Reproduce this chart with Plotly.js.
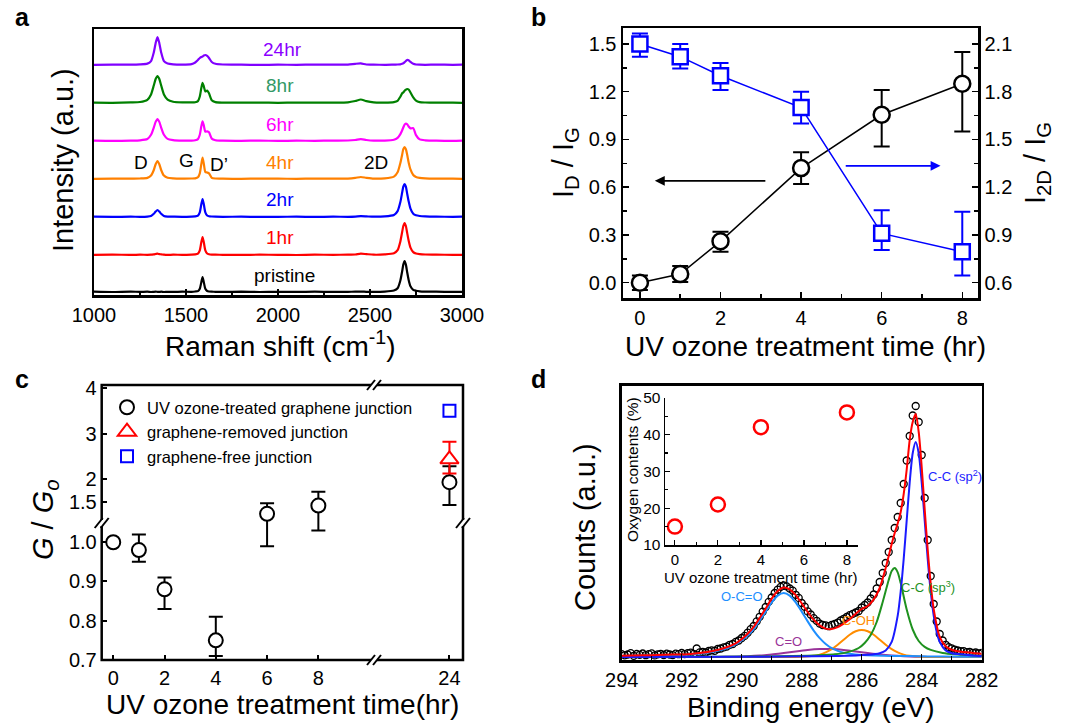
<!DOCTYPE html>
<html><head><meta charset="utf-8">
<script src="https://cdn.plot.ly/plotly-3.0.1.min.js"></script>
<style>html,body{margin:0;padding:0;background:#fff}#chart{width:1077px;height:723px}</style>
</head><body><div id="chart"></div>
<script>
// ---------------- Panel a : Raman spectra ----------------
const ramanShift = [1000,1100,1200,1250,1290,1310,1325,1335,1345,1355,1365,1380,1400,1430,1480,1530,1550,1565,1575,1583,1590,1597,1605,1615,1625,1640,1660,1700,1800,1900,2000,2100,2200,2300,2380,2420,2450,2480,2520,2580,2630,2650,2665,2675,2681,2688,2695,2702,2710,2720,2735,2750,2770,2800,2860,2950,3000];
const spectraNames = ['pristine','1hr','2hr','4hr','6hr','8hr','24hr'];
const spectraOffsets = [3, 40, 78, 116, 154, 192, 230];
const ramanPristine = [0.3,0.0,0.4,0.1, 0.3,0.0,0.2,0.3,0.2,0.1,0.3,0.0,0.2,0.1, 0.3,0.2,0.5,0.9,3.2,9.6,15.0,9.6,3.2,1.0,0.5,0.3,0.2,0.1, 0.3,0.0,0.2,0.1,0.3,0.1, 0.2,0.3,0.4,0.2,0.1, 0.4,1.5,3.7,11.5,21.0,27.4,31.0,27.4,19.8,12.1,5.7,2.2,1.3,0.7,0.4,0.3,0.1,0.2];
const raman1hr = [0.2,0.4,0.1,0.3, 0.2,0.3,0.7,1.0,1.3,0.9,0.7,0.3,0.1,0.3, 0.2,0.4,0.6,1.4,4.7,12.4,18.0,12.4,4.7,1.5,0.8,0.4,0.3,0.2, 0.1,0.3,0.2,0.0,0.3,0.2, 0.3,0.5,1.3,0.9,0.3, 0.6,1.7,4.8,13.6,23.2,29.0,32.0,29.0,22.1,14.4,7.4,2.9,1.5,0.9,0.5,0.3,0.2,0.1];
const raman2hr = [0.3,0.1,0.3,0.2, 0.4,1.0,3.2,5.4,7.0,5.4,3.2,1.0,0.4,0.3, 0.2,0.4,0.6,1.4,4.7,12.4,18.0,12.4,4.7,1.5,0.8,0.5,0.3,0.2, 0.3,0.1,0.2,0.3,0.1,0.3, 0.2,0.4,0.8,0.6,0.3, 0.6,2.0,5.9,14.9,24.7,30.3,33.0,30.3,23.4,15.8,8.4,3.3,1.7,1.0,0.6,0.3,0.2,0.3];
const raman4hr = [0.2,0.4,0.3,0.5, 1.1,3.4,9.0,14.8,18.0,14.8,9.0,3.4,1.2,0.6, 0.4,0.5,0.7,1.7,5.6,14.6,21.3,15.0,7.1,6.5,5.7,1.2,0.5,0.3, 0.2,0.4,0.3,0.2,0.4,0.3, 0.4,1.1,2.0,1.2,0.4, 0.7,2.4,6.7,16.0,24.6,29.8,32.0,29.8,24.2,16.6,9.6,4.0,2.1,1.2,0.7,0.4,0.3,0.2];
const raman6hr = [0.3,0.1,0.4,0.7, 2.0,6.2,13.4,19.1,22.0,19.1,13.4,6.2,2.1,0.9, 0.4,0.4,0.8,1.9,6.3,14.4,19.7,15.4,9.3,9.6,8.7,2.4,0.8,0.3, 0.2,0.4,0.1,0.3,0.2,0.4, 0.5,1.0,1.8,1.0,0.4, 0.4,1.2,3.1,6.9,10.8,13.5,16.4,17.5,16.8,14.5,12.6,12.9,5.9,1.6,0.7,0.3,0.2,0.4];
const raman8hr = [0.3,0.2,0.6,1.0, 3.2,8.6,17.6,24.0,27.0,24.0,17.6,8.6,3.4,1.3, 0.6,0.6,0.8,1.9,6.5,14.7,20.2,16.5,11.6,12.4,9.7,2.7,0.9,0.4, 0.3,0.5,0.2,0.4,0.3,0.4, 0.7,2.0,3.5,1.9,0.6, 0.4,0.9,2.2,6.3,9.8,10.6,12.2,13.3,14.0,13.5,10.5,5.6,2.3,0.9,0.5,0.3,0.4,0.2];
const raman24hr = [0.2,0.4,0.3,0.6, 1.4,3.9,12.6,21.8,28.0,21.8,12.6,3.9,1.5,0.7, 0.4,0.9,2.5,5.0,7.0,8.0,8.5,9.5,10.0,9.2,7.0,3.0,1.2,0.5, 0.3,0.1,0.3,0.2,0.4,0.3, 0.4,1.2,1.6,0.5,0.3, 0.2,0.4,0.5,0.7,1.2,1.7,2.8,4.0,5.0,4.8,3.1,1.2,0.5,0.3,0.2,0.4,0.2,0.3];
const ramanTicks = [1000,1500,2000,2500,3000];

// ---------------- Panel b ----------------
const timeB = [0,1,2,4,6,8];
const idIg = [0.0, 0.055, 0.26, 0.72, 1.055, 1.25];
const idIgErrUp = [0.045, 0.05, 0.06, 0.10, 0.155, 0.20];
const idIgErrDn = [0.045, 0.05, 0.065, 0.10, 0.20, 0.30];
const i2dIg = [2.10, 2.02, 1.90, 1.70, 0.91, 0.795];
const i2dIgErrUp = [0.065, 0.08, 0.08, 0.10, 0.145, 0.25];
const i2dIgErrDn = [0.08, 0.075, 0.09, 0.10, 0.105, 0.15];

// ---------------- Panel c ----------------
const timeC = [0,1,2,4,6,8,24];
const gRatio = [1.00, 0.98, 0.88, 0.75, 1.25, 1.43, 1.94];
const gRatioErrUp = [0, 0.04, 0.03, 0.06, 0.23, 0.30, 0.35];
const gRatioErrDn = [0, 0.03, 0.05, 0.04, 0.26, 0.40, 0.50];
const timeRemoved = [24];
const gRemoved = [2.44];
const gRemovedErrUp = [0.38];
const gRemovedErrDn = [0.31];
const timeFree = [24];
const gFree = [3.5];
const axisBreak = 1.05; // value at which the broken y axis splits

// ---------------- Panel d : XPS C1s ----------------
const xpsEnergy = [294.0,293.9,293.8,293.7,293.6,293.5,293.4,293.3,293.2,293.1,293.0,292.9,292.8,292.7,292.6,292.5,292.4,292.3,292.2,292.1,292.0,291.9,291.8,291.7,291.6,291.5,291.4,291.3,291.2,291.1,291.0,290.9,290.8,290.7,290.6,290.5,290.4,290.3,290.2,290.1,290.0,289.9,289.8,289.7,289.6,289.5,289.4,289.3,289.2,289.1,289.0,288.9,288.8,288.7,288.6,288.5,288.4,288.3,288.2,288.1,288.0,287.9,287.8,287.7,287.6,287.5,287.4,287.3,287.2,287.1,287.0,286.9,286.8,286.7,286.6,286.5,286.4,286.3,286.2,286.1,286.0,285.9,285.8,285.7,285.6,285.5,285.4,285.3,285.2,285.1,285.0,284.9,284.8,284.7,284.6,284.5,284.4,284.3,284.2,284.1,284.0,283.9,283.8,283.7,283.6,283.5,283.4,283.3,283.2,283.1,283.0,282.9,282.8,282.7,282.6,282.5,282.4,282.3,282.2,282.1,282.0];
const xpsCounts = [5.9,4.7,5.5,6.8,4.2,6.0,5.1,6.5,4.8,5.9,6.6,4.6,5.7,6.2,5.0,6.4,5.5,4.9,6.3,5.8,7.0,5.9,6.8,7.3,6.2,11.5,7.6,8.1,7.5,9.0,9.6,9.2,11.0,11.5,12.6,13.4,15.2,16.0,18.1,19.5,22.0,24.1,27.3,30.8,34.0,38.6,43.2,48.3,53.0,58.1,62.5,67.0,70.3,73.1,74.5,73.6,71.5,69.4,65.2,62.1,57.0,53.3,48.6,45.5,41.8,39.2,36.4,35.0,34.6,33.8,35.1,36.0,37.4,39.5,41.2,43.0,44.8,46.1,47.5,49.0,52.5,55.0,57.5,61.5,65.5,71.5,78.0,87.0,97.0,108.0,120.0,132.0,143.0,157.0,176.0,199.5,224.0,244.5,254.0,238.0,205.0,162.0,120.0,84.0,56.0,38.5,26.0,19.5,15.2,12.9,11.6,10.3,9.5,8.9,8.8,7.9,8.1,7.2,7.5,6.6,7.0];
const fitEnergy = [294,293.3,292.8,292.3,291.8,291.4,291.0,290.6,290.2,290.0,289.8,289.6,289.4,289.2,289.0,288.8,288.6,288.4,288.2,288.0,287.8,287.6,287.4,287.2,287.0,286.8,286.6,286.4,286.2,286.0,285.8,285.6,285.4,285.2,285.0,284.9,284.8,284.7,284.6,284.5,284.4,284.3,284.2,284.1,284.0,283.9,283.8,283.7,283.6,283.4,283.2,283.0,282.8,282.3,282];
const fitCounts = [4.3,4.7,5.0,5.4,5.8,7.0,8.8,11.7,16.7,20.9,26.2,33.1,42.0,51.5,61.4,68.9,72.4,70.7,64.8,56.7,48.0,40.3,34.6,31.4,30.9,32.8,36.3,40.7,46.3,51.0,54.0,60.6,72.0,92.0,116.0,127.0,136.5,148.0,166.0,190.4,220.0,238.0,246.0,228.0,193.0,150.6,110.3,76.4,50.9,23.2,13.7,10.2,8.8,7.1,6.3];
const ocoEnergy = [294,293.3,292.8,292.3,291.8,291.4,291.0,290.8,290.6,290.4,290.2,290.0,289.8,289.6,289.4,289.2,289.0,288.8,288.6,288.4,288.2,288.0,287.8,287.6,287.4,287.2,287.0,286.8,286.6,286.4,286.0,285.6,285.0,284.4,283.8,282.8,282];
const ocoCounts = [4.0,4.3,4.6,4.9,5.2,6.4,8.0,9.2,10.8,12.8,15.5,19.5,24.5,31.0,39.5,48.4,57.6,64.4,67.0,64.4,57.6,48.4,38.6,29.4,21.8,16.0,11.8,9.1,7.3,6.2,5.0,4.5,4.1,3.9,3.6,3.3,3.2];
const coEnergy = [294,291.8,290.8,290.2,289.8,289.4,289.0,288.6,288.2,287.8,287.4,287.2,287.0,286.6,286.2,285.8,285.4,285.0,284.6,284.2,283.8,282.8,282];
const coCounts = [3.0,3.0,3.1,3.3,3.7,4.4,5.5,7.0,8.6,10.0,10.9,11.0,10.9,10.0,8.6,7.0,5.5,4.4,3.7,3.3,3.1,3.0,3.0];
const cohEnergy = [294,289.8,288.4,288.0,287.6,287.4,287.2,287.0,286.8,286.6,286.4,286.2,286.0,285.8,285.6,285.4,285.2,285.0,284.8,284.6,284.4,284.0,283.4,282];
const cohCounts = [3.0,3.0,3.0,3.2,4.2,5.4,7.6,10.9,15.3,20.3,25.2,28.7,30.0,28.7,25.2,20.3,15.3,10.9,7.6,5.4,4.2,3.2,3.0,3.0];
const sp3Energy = [294,291.8,289.8,288.8,287.8,287.3,286.9,286.5,286.1,285.9,285.7,285.5,285.3,285.1,285.0,284.9,284.8,284.7,284.5,284.3,284.1,283.9,283.7,283.3,282.9,282];
const sp3Counts = [3.15,3.2,3.45,3.7,4.2,4.9,5.7,7.6,12.0,17.0,25.0,38.0,58.0,80.0,89.0,92.0,87.7,76.9,50.5,30.5,19.0,13.1,10.1,7.1,5.7,4.2];
const sp2Energy = [294,289.8,286.8,285.8,285.4,285.2,285.0,284.8,284.7,284.6,284.5,284.4,284.3,284.2,284.1,284.0,283.9,283.8,283.7,283.6,283.5,283.4,283.2,283.0,282.8,282.3,282];
const sp2Counts = [3.1,3.2,3.9,5.2,6.8,9.5,18.1,44.3,68.6,101.2,139.6,177.7,206.8,218.0,206.8,177.7,139.6,101.2,68.6,44.3,27.9,18.1,9.5,6.8,5.9,4.6,4.0];
const energyTicks = [294,292,290,288,286,284,282];
// inset
const timeInset = [0,2,4,8];
const oxygenContent = [15, 21, 42, 46];

// ---------------- helpers ----------------
const W = 1077, H = 723;
const fx = p => p / W;
const fy = p => 1 - p / H;
const FONT = 'Liberation Sans, Arial, Helvetica, sans-serif';

const traces = [];

// panel a
const ramanSeries = [ramanPristine, raman1hr, raman2hr, raman4hr, raman6hr, raman8hr, raman24hr];
const ramanColors = ['#000000','#ff0000','#0000ff','#ff8000','#ff00ff','#008000','#8000ff'];
ramanSeries.forEach((s, i) => {
  traces.push({
    x: ramanShift, y: s.map(v => v + spectraOffsets[i]),
    xaxis: 'x', yaxis: 'y', mode: 'lines', name: spectraNames[i], showlegend: false,
    line: {color: ramanColors[i], width: 2.2, shape: 'spline', smoothing: 0.6}
  });
});

// panel b
traces.push({
  x: timeB, y: idIg, xaxis: 'x2', yaxis: 'y2', mode: 'lines+markers', showlegend: false,
  line: {color: '#000', width: 1.5},
  marker: {symbol: 'circle', size: 16, color: '#fff', line: {color: '#000', width: 2.5}},
  error_y: {type: 'data', symmetric: false, array: idIgErrUp, arrayminus: idIgErrDn, color: '#000', thickness: 2, width: 8}
});
traces.push({
  x: timeB, y: i2dIg, xaxis: 'x2', yaxis: 'y7', mode: 'lines+markers', showlegend: false,
  line: {color: '#0000ff', width: 1.5},
  marker: {symbol: 'square', size: 15, color: '#fff', line: {color: '#0000ff', width: 2.5}},
  error_y: {type: 'data', symmetric: false, array: i2dIgErrUp, arrayminus: i2dIgErrDn, color: '#0000ff', thickness: 2, width: 8}
});

// panel c (broken axes: 4 sub-panels share the same data; each shows only its own markers)
const cPairs = [['x3','y3',false],['x3','y4',true],['x4','y3',false],['x4','y4',true]];
cPairs.forEach((p, k) => {
  const sel = gRatio.map((v, i) => ((p[2] ? v >= axisBreak : v < axisBreak) ? i : -1)).filter(i => i >= 0);
  traces.push({
    x: timeC, y: gRatio, xaxis: p[0], yaxis: p[1], mode: 'markers',
    name: 'UV ozone-treated graphene junction', showlegend: k === 0, legendrank: 1,
    selectedpoints: sel, selected: {marker: {opacity: 1}}, unselected: {marker: {opacity: 0}},
    marker: {symbol: 'circle', size: 14, color: '#fff', line: {color: '#000', width: 2}},
    error_y: {type: 'data', symmetric: false, array: gRatioErrUp, arrayminus: gRatioErrDn, color: '#000', thickness: 2, width: 7}
  });
});
traces.push({
  x: timeRemoved, y: gRemoved, xaxis: 'x4', yaxis: 'y4', mode: 'markers',
  name: 'graphene-removed junction', legendrank: 2,
  marker: {symbol: 'triangle-up', size: 16, color: '#fff', line: {color: '#ff0000', width: 2}},
  error_y: {type: 'data', symmetric: false, array: gRemovedErrUp, arrayminus: gRemovedErrDn, color: '#ff0000', thickness: 2, width: 7}
});
traces.push({
  x: timeFree, y: gFree, xaxis: 'x4', yaxis: 'y4', mode: 'markers',
  name: 'graphene-free junction', legendrank: 3,
  marker: {symbol: 'square', size: 12, color: '#fff', line: {color: '#0000ff', width: 2}}
});

// panel d
traces.push({x: xpsEnergy, y: xpsCounts, xaxis: 'x5', yaxis: 'y5', mode: 'markers', showlegend: false,
  marker: {symbol: 'circle-open', size: 7, color: '#000', line: {width: 1.3}}});
const comps = [
  [coEnergy, coCounts, '#993399'],
  [cohEnergy, cohCounts, '#ff8c00'],
  [ocoEnergy, ocoCounts, '#1e8fff'],
  [sp3Energy, sp3Counts, '#1f921f'],
  [sp2Energy, sp2Counts, '#1a1aff'],
  [fitEnergy, fitCounts, '#ff0000']
];
comps.forEach(c => traces.push({x: c[0], y: c[1], xaxis: 'x5', yaxis: 'y5', mode: 'lines', showlegend: false,
  line: {color: c[2], width: 2, shape: 'spline', smoothing: 0.7}}));
traces.push({x: timeInset, y: oxygenContent, xaxis: 'x6', yaxis: 'y6', mode: 'markers', showlegend: false,
  marker: {symbol: 'circle-open', size: 14, color: '#ff0000', line: {width: 2.5}}});

// ---------------- layout ----------------
const base = {showgrid: false, zeroline: false, color: '#000', linecolor: '#000', tickcolor: '#000',
  tickfont: {size: 20, family: FONT, color: '#000'}};
const frame = {showline: true, mirror: true, linewidth: 2.5};

const ann = [];
const T = (text, px, py, size, opts) => ann.push(Object.assign({text, x: fx(px), y: fy(py), xref: 'paper', yref: 'paper',
  showarrow: false, xanchor: 'center', yanchor: 'middle', font: {size, family: FONT, color: '#000'}}, opts || {}));

// titles
T('Raman shift (cm<sup>-1</sup>)', 280, 344, 28);
T('Intensity (a.u.)', 63, 160, 29, {textangle: -90});
T('UV ozone treatment time (hr)', 805, 346, 28);
T('I<sub>D</sub> / I<sub>G</sub>', 565, 163, 29, {textangle: -90});
T('I<sub>2D</sub> / I<sub>G</sub>', 1037, 163, 29, {textangle: -90});
T('UV ozone treatment time(hr)', 282, 704, 28);
T('<i>G</i> / <i>G</i><sub><i>o</i></sub>', 45, 520, 29, {textangle: -90});
T('Binding energy (eV)', 810, 707, 28);
T('Counts (a.u.)', 585, 527, 29, {textangle: -90});
T('UV ozone treatment time (hr)', 760, 577, 15);
T('Oxygen contents (%)', 632, 470, 15.5, {textangle: -90});
// panel letters
T('<b>a</b>', 22, 17, 25);
T('<b>b</b>', 538, 17, 25);
T('<b>c</b>', 22, 379, 25);
T('<b>d</b>', 538, 379, 25);

// spectrum labels (panel a)
const A = (text, x, y, color, size) => ann.push({text, x, y, xref: 'x', yref: 'y', showarrow: false,
  font: {size: size || 19, family: FONT, color}});
A('24hr', 2022, 245, '#8b00ff');
A('8hr', 2011, 209, '#339966');
A('6hr', 2011, 170, '#ff00ff');
A('4hr', 2011, 132, '#ff8000');
A('2hr', 2011, 95, '#0000ff');
A('1hr', 2011, 57, '#ff0000');
A('pristine', 2038, 20, '#000');
A('D', 1255, 132, '#000');
A('G', 1500, 134, '#000');
A('D\u2019', 1679, 130, '#000');
A('2D', 2535, 132, '#000');

// peak labels (panel d)
const P = (text, x, y, color, xa) => ann.push({text, x, y, xref: 'x5', yref: 'y5', showarrow: false, xanchor: xa || 'center',
  font: {size: 13, family: FONT, color}});
P('C-C (sp<sup>2</sup>)', 283.85, 184, '#2222ff', 'left');
P('C-C (sp<sup>3</sup>)', 284.75, 73, '#1f921f', 'left');
P('O-C=O', 289.98, 64, '#1e8fff');
P('C=O', 288.43, 19, '#993399');
P('C-OH', 286.1, 40, '#ff8c00');

// arrows (panel b)
ann.push({x: 0.37, y: 0.64, ax: 3.15, ay: 0.64, xref: 'x2', yref: 'y2', axref: 'x2', ayref: 'y2', text: '',
  showarrow: true, arrowhead: 2, arrowsize: 1.1, arrowwidth: 1.8, arrowcolor: '#000'});
ann.push({x: 7.46, y: 1.334, ax: 5.07, ay: 1.334, xref: 'x2', yref: 'y7', axref: 'x2', ayref: 'y7', text: '',
  showarrow: true, arrowhead: 2, arrowsize: 1.1, arrowwidth: 1.8, arrowcolor: '#0000ff'});

// shapes: panel c frame and break marks
const shapes = [];
shapes.push({type: 'rect', xref: 'paper', yref: 'paper', x0: fx(101.7), x1: fx(463), y0: fy(660), y1: fy(385),
  line: {color: '#000', width: 2.5}});
const brk = (cx, cy, horiz) => {
  if (horiz) {
    shapes.push({type: 'line', xref: 'paper', yref: 'paper', x0: fx(cx - 3), x1: fx(cx + 3), y0: fy(cy), y1: fy(cy), line: {color: '#fff', width: 4}});
  } else {
    shapes.push({type: 'line', xref: 'paper', yref: 'paper', x0: fx(cx), x1: fx(cx), y0: fy(cy - 3), y1: fy(cy + 3), line: {color: '#fff', width: 4}});
  }
  [-3, 3].forEach(d => shapes.push({type: 'line', xref: 'paper', yref: 'paper',
    x0: fx(cx + d - 4), x1: fx(cx + d + 4), y0: fy(cy + 5), y1: fy(cy - 5), line: {color: '#000', width: 2}}));
};
brk(374, 385, true);
brk(374, 660, true);
brk(101.7, 523, false);
brk(463, 523, false);

const layout = {
  width: W, height: H, margin: {l: 0, r: 0, t: 0, b: 0},
  paper_bgcolor: '#fff', plot_bgcolor: 'rgba(0,0,0,0)',
  font: {family: FONT, size: 20, color: '#000'},
  showlegend: true,
  legend: {x: fx(107), y: fy(390), xanchor: 'left', yanchor: 'top', bgcolor: 'rgba(0,0,0,0)',
    font: {size: 16.5, family: FONT, color: '#000'}, tracegroupgap: 0, traceorder: 'normal'},
  // a
  xaxis: Object.assign({}, base, frame, {domain: [fx(94), fx(462)], range: [1000, 3000], anchor: 'y',
    tickvals: ramanTicks, ticks: 'inside', ticklen: 6, tickwidth: 1.5,
    minor: {tick0: 1000, dtick: 250, ticks: 'inside', ticklen: 4, tickcolor: '#000'}}),
  yaxis: Object.assign({}, base, frame, {domain: [fy(295), fy(29)], range: [0, 266], anchor: 'x',
    showticklabels: false, ticks: ''}),
  // b
  xaxis2: Object.assign({}, base, frame, {domain: [fx(623), fx(978)], range: [-0.42, 8.39], anchor: 'y2',
    tickvals: [0,2,4,6,8], ticks: 'inside', ticklen: 6, tickwidth: 1.5,
    minor: {tick0: 0, dtick: 1, ticks: 'inside', ticklen: 4, tickcolor: '#000'}}),
  yaxis2: Object.assign({}, base, {showline: true, linewidth: 2.5, domain: [fy(298), fy(28)], range: [-0.096, 1.60], anchor: 'x2',
    tickvals: [0, 0.3, 0.6, 0.9, 1.2, 1.5], tickformat: '.1f', ticks: 'inside', ticklen: 6, tickwidth: 1.5,
    minor: {tick0: 0, dtick: 0.15, ticks: 'inside', ticklen: 4, tickcolor: '#000'}}),
  yaxis7: Object.assign({}, base, {showline: true, linewidth: 2.5, overlaying: 'y2', side: 'right', anchor: 'x2',
    range: [0.504, 2.20], tickvals: [0.6, 0.9, 1.2, 1.5, 1.8, 2.1], tickformat: '.1f', ticks: 'inside', ticklen: 6, tickwidth: 1.5,
    minor: {tick0: 0.6, dtick: 0.15, ticks: 'inside', ticklen: 4, tickcolor: '#000'}}),
  // c
  xaxis3: Object.assign({}, base, {domain: [fx(101.7), fx(374)], range: [-0.45, 10.17], anchor: 'y3',
    tickvals: [0,2,4,6,8], ticks: 'inside', ticklen: 5, tickwidth: 2}),
  xaxis4: Object.assign({}, base, {domain: [fx(374), fx(463)], range: [21.05, 24.53], anchor: 'y3',
    tickvals: [24], ticks: 'inside', ticklen: 5, tickwidth: 2}),
  yaxis3: Object.assign({}, base, {domain: [fy(660), fy(523)], range: [0.7, 1.049], anchor: 'x3',
    tickvals: [0.7, 0.8, 0.9, 1.0], tickformat: '.1f', ticks: 'inside', ticklen: 5, tickwidth: 2}),
  yaxis4: Object.assign({}, base, {domain: [fy(523), fy(385)], range: [1.05, 4.06], anchor: 'x3',
    tickvals: [1.5, 2, 3, 4], ticktext: ['1.5','2','3','4'], ticks: 'inside', ticklen: 5, tickwidth: 2}),
  // d
  xaxis5: Object.assign({}, base, frame, {domain: [fx(621.7), fx(981.7)], range: [294, 282], anchor: 'y5',
    tickvals: energyTicks, ticks: 'inside', ticklen: 6, tickwidth: 1.5,
    minor: {tick0: 282, dtick: 1, ticks: 'inside', ticklen: 4, tickcolor: '#000'}}),
  yaxis5: Object.assign({}, base, frame, {domain: [fy(660), fy(385.7)], range: [0, 274.3], anchor: 'x5',
    showticklabels: false, ticks: ''}),
  xaxis6: Object.assign({}, base, {showline: true, linewidth: 1.5, domain: [fx(665), fx(858.3)], range: [-0.46, 8.53], anchor: 'y6',
    tickvals: [0,2,4,6,8], ticks: 'inside', ticklen: 5, tickwidth: 1.2, tickfont: {size: 15, family: FONT, color: '#000'},
    minor: {tick0: 0, dtick: 1, ticks: 'inside', ticklen: 3, tickcolor: '#000'}}),
  yaxis6: Object.assign({}, base, {showline: true, linewidth: 1.5, domain: [fy(545), fy(397.7)], range: [10, 50], anchor: 'x6',
    tickvals: [10,20,30,40,50], ticks: 'inside', ticklen: 5, tickwidth: 1.2, tickfont: {size: 15.5, family: FONT, color: '#000'},
    minor: {tick0: 10, dtick: 5, ticks: 'inside', ticklen: 3, tickcolor: '#000'}}),
  annotations: ann,
  shapes: shapes
};

Plotly.newPlot('chart', traces, layout, {displayModeBar: false, staticPlot: true});
</script>
</body></html>
